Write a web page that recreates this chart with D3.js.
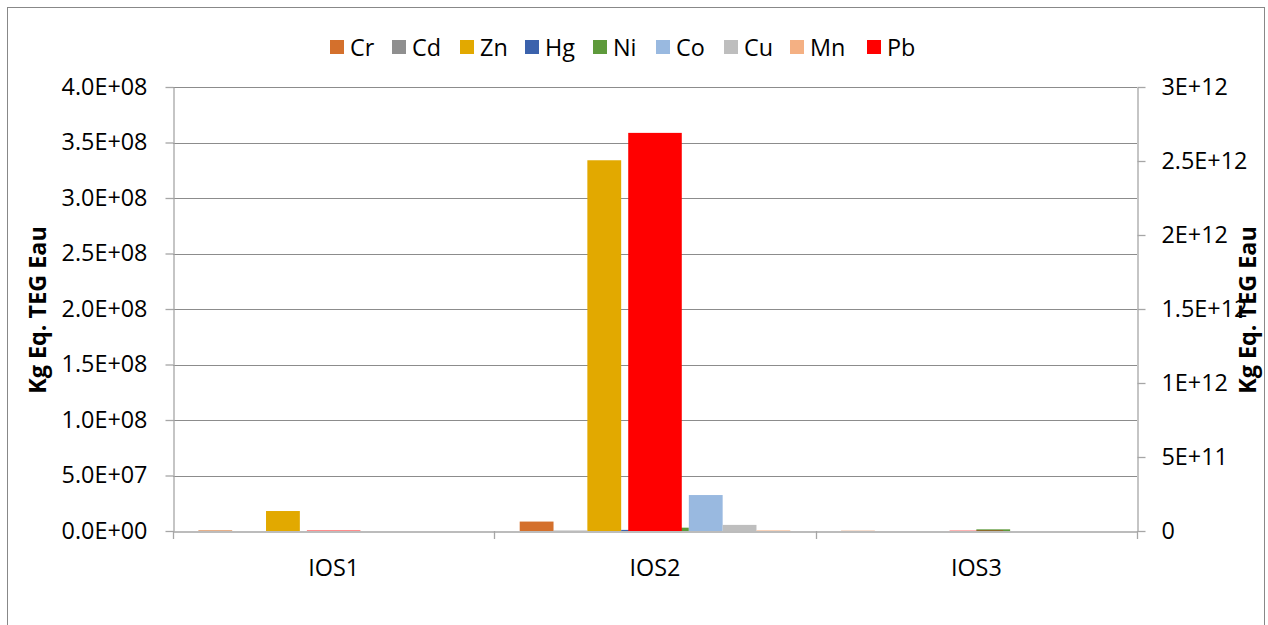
<!DOCTYPE html>
<html><head><meta charset="utf-8">
<script src="https://cdn.jsdelivr.net/npm/d3@7"></script>
<style>body{margin:0;background:#fff}svg{display:block}text{font-family:"Open Sans",sans-serif;fill:#000}</style>
</head><body><svg id="c" width="1268" height="625"></svg>
<script>
const categories = ["IOS1","IOS2","IOS3"];
const primaryNames = ["Cr","Cd","Zn","Hg","Ni","Co","Cu","Mn"];
const Cr = [5e5, 8.5e6, 2e5];
const Cd = [0, 3e5, 0];
const Zn = [1.8e7, 3.34e8, 0];
const Hg = [0, 1e6, 0];
const Ni = [0, 3e6, 1.5e6];
const Co = [0, 3.24e7, 0];
const Cu = [0, 5.5e6, 0];
const Mn = [0, 5e5, 0];
const Pb = [3e9, 2.69e12, 2e9];
const leftTicks = [0,5e7,1e8,1.5e8,2e8,2.5e8,3e8,3.5e8,4e8];
const leftTickLabels = ["0.0E+00","5.0E+07","1.0E+08","1.5E+08","2.0E+08","2.5E+08","3.0E+08","3.5E+08","4.0E+08"];
const rightTicks = [0,5e11,1e12,1.5e12,2e12,2.5e12,3e12];
const rightTickLabels = ["0","5E+11","1E+12","1.5E+12","2E+12","2.5E+12","3E+12"];
const colors = {Cr:"#D4702C",Cd:"#8F8F8F",Zn:"#E2A900",Hg:"#3B62AC",Ni:"#5E9A3B",Co:"#99B9E0",Cu:"#BEBEBE",Mn:"#F4B083",Pb:"#FF0000"};
const yTitle = "Kg Eq. TEG Eau";

const primary = {Cr,Cd,Zn,Hg,Ni,Co,Cu,Mn};
const svg = d3.select("#c");
const L=173,R=1137,T=87,B=531;
const FONT="'Open Sans',sans-serif";

// size text so a tick label spans about the same width as in the original
const probe = svg.append("text").attr("font-family",FONT).attr("font-size",20).text(leftTickLabels[8]);
const w20 = probe.node().getComputedTextLength();
probe.remove();
const FS = Math.max(18, Math.min(25, 20*86/w20));

svg.append("rect").attr("x",7.5).attr("y",7.5).attr("width",1257).attr("height",640)
  .attr("fill","#fff").attr("stroke","#888").attr("stroke-width",1);

const x = d3.scaleBand().domain(categories).range([L,R]).paddingInner(0).paddingOuter(0);
const yL = d3.scaleLinear().domain([0,4e8]).range([B,T]);
const yR = d3.scaleLinear().domain([0,3e12]).range([B,T]);

// gridlines
svg.append("g").selectAll("line").data(leftTicks.slice(1)).join("line")
  .attr("x1",L).attr("x2",R).attr("y1",d=>Math.round(yL(d))+0.5).attr("y2",d=>Math.round(yL(d))+0.5)
  .attr("stroke","#8c8c8c").attr("stroke-width",1);

// primary bars (gap 150%)
const inner = d3.scaleBand().domain(primaryNames).range([0,x.bandwidth()]).paddingInner(0).paddingOuter(0.75);
primaryNames.forEach(n=>{
  svg.append("g").selectAll("rect").data(categories).join("rect")
    .attr("x",c=>x(c)+inner(n)).attr("width",inner.bandwidth())
    .attr("y",(c,i)=>yL(primary[n][i])).attr("height",(c,i)=>B-yL(primary[n][i]))
    .attr("fill",colors[n]);
});
// secondary Pb (gap 500%)
const innerS = d3.scaleBand().domain(["Pb"]).range([0,x.bandwidth()]).paddingInner(0).paddingOuter(2.5);
svg.append("g").selectAll("rect").data(categories).join("rect")
  .attr("x",c=>x(c)+innerS("Pb")).attr("width",innerS.bandwidth())
  .attr("y",(c,i)=>yR(Pb[i])).attr("height",(c,i)=>B-yR(Pb[i]))
  .attr("fill",colors.Pb);

// axes
const axColor="#A6A6A6";
const gl = svg.append("g").attr("transform",`translate(${L+0.5},0)`)
  .call(d3.axisLeft(yL).tickValues(leftTicks).tickFormat((d,i)=>leftTickLabels[i]).tickSizeInner(8).tickSizeOuter(0).tickPadding(18));
const gr = svg.append("g").attr("transform",`translate(${R+0.5},0)`)
  .call(d3.axisRight(yR).tickValues(rightTicks).tickFormat((d,i)=>rightTickLabels[i]).tickSizeInner(8).tickSizeOuter(0).tickPadding(16));
const gx = svg.append("g").attr("transform",`translate(0,${B+0.5})`)
  .call(d3.axisBottom(x).tickSize(0).tickPadding(28));
[gl,gr,gx].forEach(g=>{
  g.selectAll("path,line").attr("stroke",axColor).attr("stroke-width",1.3);
  g.selectAll("text").attr("font-size",FS).attr("font-family",FONT).attr("fill","#000");
});
// category boundary ticks
svg.append("g").selectAll("line").data([L,...categories.map(c=>x(c)+x.bandwidth())]).join("line")
  .attr("x1",d=>Math.round(d)+0.5).attr("x2",d=>Math.round(d)+0.5).attr("y1",B).attr("y2",B+8)
  .attr("stroke",axColor).attr("stroke-width",1.3);

// axis titles
svg.append("text").attr("transform",`translate(37,310) rotate(-90)`).attr("text-anchor","middle")
  .attr("dominant-baseline","central").attr("font-size",FS).attr("font-weight","bold").text(yTitle);
svg.append("text").attr("transform",`translate(1247,310) rotate(-90)`).attr("text-anchor","middle")
  .attr("dominant-baseline","central").attr("font-size",FS).attr("font-weight","bold").text(yTitle);

// legend
const legendNames = [...primaryNames,"Pb"];
const legX = [330,392,460,525,593,656,724,790,867];
const lg = svg.append("g");
legendNames.forEach((n,i)=>{
  lg.append("rect").attr("x",legX[i]).attr("y",40).attr("width",14).attr("height",14).attr("fill",colors[n]);
  lg.append("text").attr("x",legX[i]+20).attr("y",47).attr("dominant-baseline","central").attr("font-size",FS).text(n);
});
</script></body></html>
